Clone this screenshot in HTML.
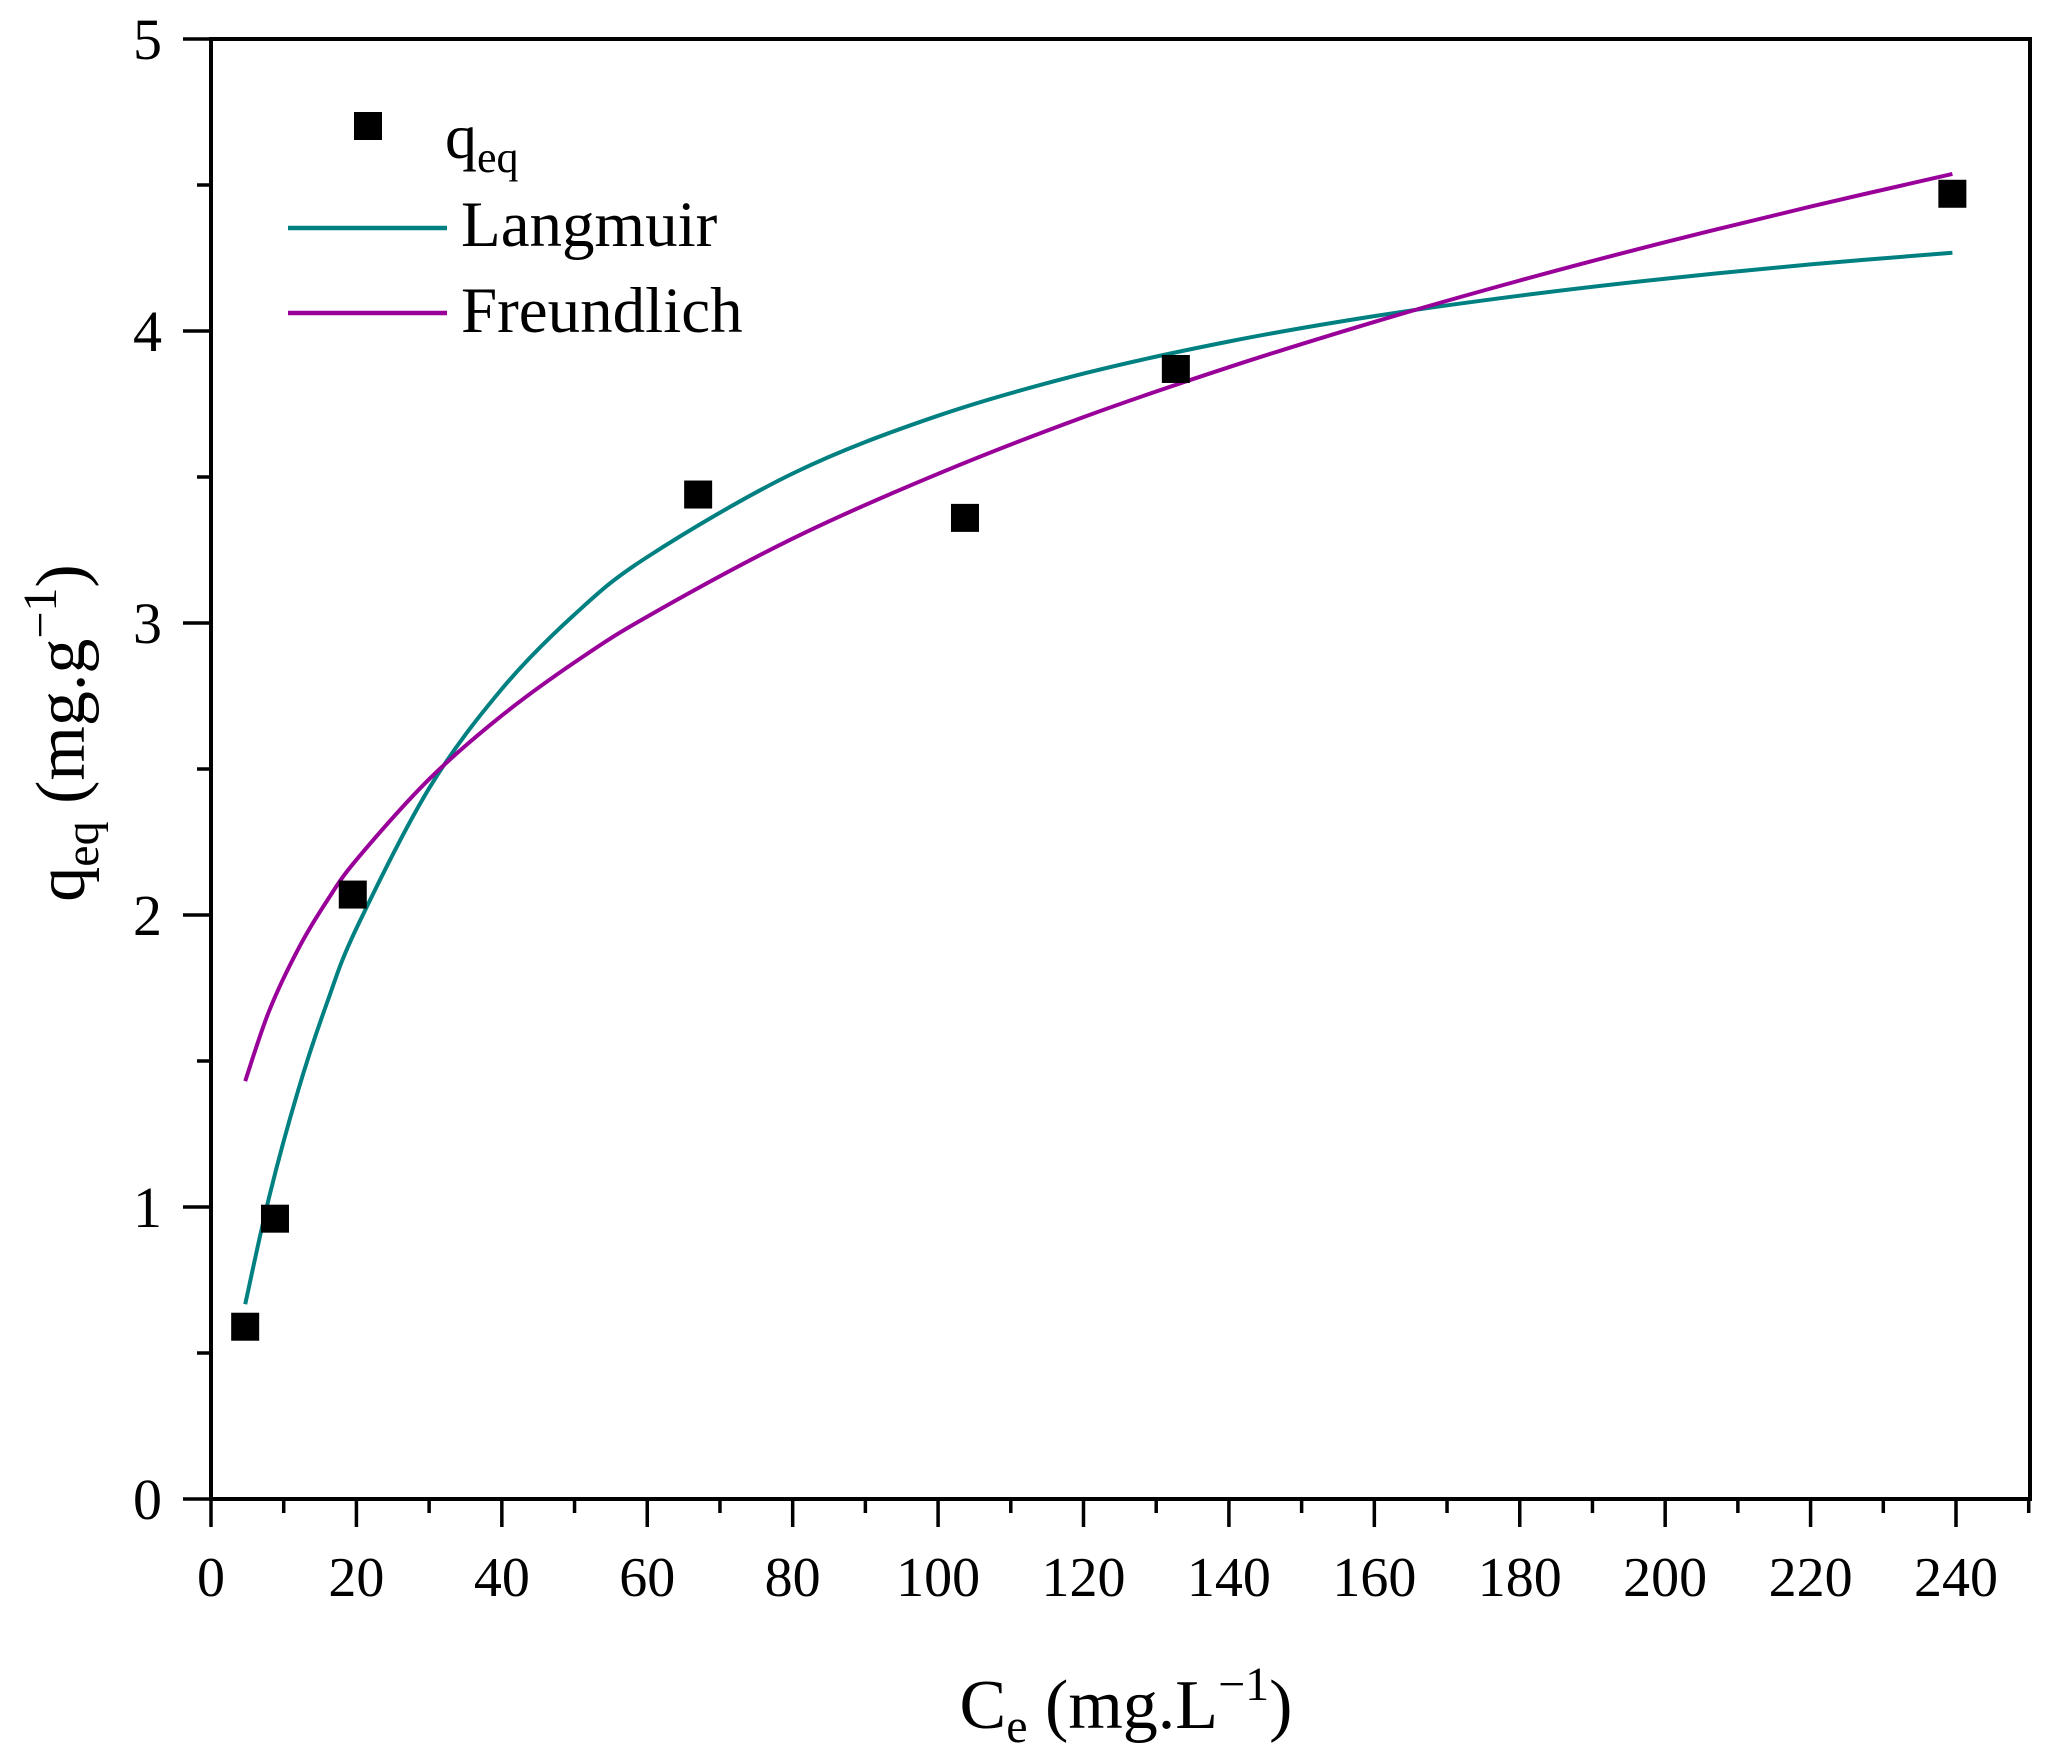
<!DOCTYPE html>
<html><head><meta charset="utf-8"><style>
html,body{margin:0;padding:0;background:#fff;}
svg{display:block;font-family:"Liberation Serif","DejaVu Serif",serif;}
</style></head><body>
<svg id="chart" width="2047" height="1759" viewBox="0 0 2047 1759" xmlns="http://www.w3.org/2000/svg">
<g id="axes"></g><g id="curves"></g><g id="points"></g>
<g>
 <rect x="354" y="112" width="28" height="28" fill="#000"/>
 <text x="445" y="158" font-size="64">q<tspan font-size="44" dy="14">eq</tspan></text>
 <line x1="288" y1="228" x2="447" y2="228" stroke="#008080" stroke-width="4.5"/>
 <text x="461" y="246" font-size="65">Langmuir</text>
 <line x1="288" y1="313" x2="447" y2="313" stroke="#990099" stroke-width="4.5"/>
 <text x="461" y="332" font-size="65">Freundlich</text>
</g>
<text x="1126" y="1728" font-size="70" text-anchor="middle">C<tspan font-size="48" dy="14">e</tspan><tspan dy="-14"> (mg.L</tspan><tspan font-size="48" dy="-28">−1</tspan><tspan dy="28">)</tspan></text>
<text transform="translate(84,733) rotate(-90)" font-size="70" text-anchor="middle">q<tspan font-size="48" dy="14">eq</tspan><tspan dy="-14"> (mg.g</tspan><tspan font-size="48" dy="-28">−1</tspan><tspan dy="28">)</tspan></text>
</svg>
<script>
const xTicks=[0,20,40,60,80,100,120,140,160,180,200,220,240];
const yTicks=[0,1,2,3,4,5];
const ceData=[4.7,8.8,19.5,67,103.7,132.7,239.5];
const qeqData=[0.59,0.96,2.07,3.44,3.36,3.87,4.47];
const fitC=[4.7,8,12,16,20,30,40,50,60,80,100,120,140,160,180,200,220,239.5];
const langmuirQ=[0.667,1.035,1.401,1.702,1.954,2.434,2.774,3.029,3.226,3.512,3.710,3.854,3.964,4.051,4.121,4.179,4.228,4.268];
const freundlichQ=[1.431,1.672,1.884,2.050,2.189,2.465,2.683,2.865,3.022,3.289,3.511,3.705,3.876,4.031,4.173,4.304,4.426,4.538];
const NS="http://www.w3.org/2000/svg";
const X0=211,X1=2030,Y0=1499,Y1=39,XW=1956;
function sx(v){return X0+(v/240)*(XW-X0);}
function sy(v){return Y0-(v/5)*(Y0-Y1);}
function mk(tag,attrs,parent){const e=document.createElementNS(NS,tag);for(const k in attrs)e.setAttribute(k,attrs[k]);parent.appendChild(e);return e;}
const axes=document.getElementById('axes');
let e;
e=mk('rect',{x:X0,y:Y1,width:X1-X0,height:Y0-Y1,fill:'none',stroke:'#000','stroke-width':4},axes);


for(let v=0;v<=250;v+=10){
 const major=v%20===0;
 e=mk('line',{x1:sx(v),x2:sx(v),y1:Y0,y2:Y0+(major?28:14),stroke:'#000','stroke-width':3.5},axes);
 
 
}
xTicks.forEach(v=>{
 e=mk('text',{x:sx(v),y:1596,'font-size':56,'text-anchor':'middle'},axes);e.textContent=v;
 
 
});
for(let v=0;v<=5;v+=0.5){
 const major=Number.isInteger(v);
 e=mk('line',{x1:X0-(major?28:14),x2:X0,y1:sy(v),y2:sy(v),stroke:'#000','stroke-width':3.5},axes);
 
 
}
yTicks.forEach(v=>{
 e=mk('text',{x:162,y:sy(v)+20,'font-size':58,'text-anchor':'end'},axes);e.textContent=v;
 
 
});
const curves=document.getElementById('curves');
function path(xs,ys){
 const p=xs.map((x,i)=>[sx(x),sy(ys[i])]);
 let d='M'+p[0][0].toFixed(1)+','+p[0][1].toFixed(1);
 for(let i=0;i<p.length-1;i++){
  const a=p[Math.max(0,i-1)],b=p[i],c=p[i+1],dd=p[Math.min(p.length-1,i+2)];
  const c1=[b[0]+(c[0]-a[0])/6,b[1]+(c[1]-a[1])/6];
  const c2=[c[0]-(dd[0]-b[0])/6,c[1]-(dd[1]-b[1])/6];
  d+='C'+c1.map(v=>v.toFixed(1)).join(',')+' '+c2.map(v=>v.toFixed(1)).join(',')+' '+c.map(v=>v.toFixed(1)).join(',');
 }
 return d;
}
e=mk('path',{d:path(fitC,langmuirQ),fill:'none',stroke:'#008080','stroke-width':4,'stroke-linejoin':'round'},curves);


e=mk('path',{d:path(fitC,freundlichQ),fill:'none',stroke:'#990099','stroke-width':4,'stroke-linejoin':'round'},curves);


const pts=document.getElementById('points');
ceData.forEach((c,i)=>{
 e=mk('rect',{x:sx(c)-14,y:sy(qeqData[i])-14,width:28,height:28,fill:'#000'},pts);
 
 
});
</script>
</body></html>
